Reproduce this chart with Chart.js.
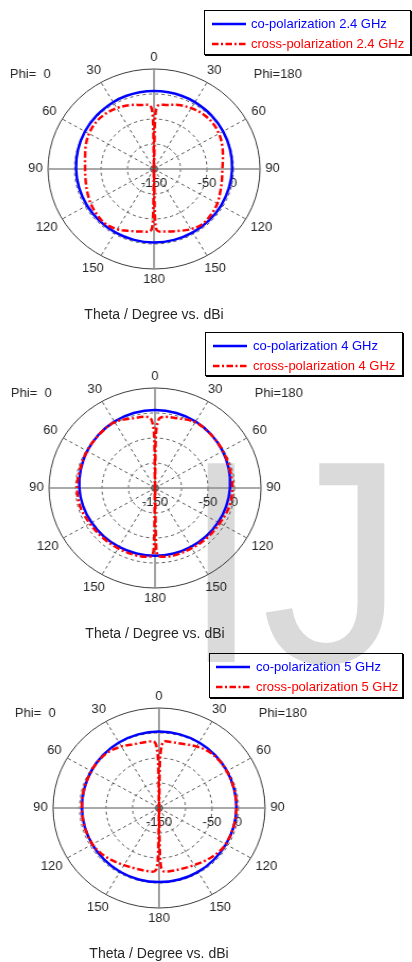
<!DOCTYPE html>
<html>
<head>
<meta charset="utf-8">
<title>Radiation patterns – co- and cross-polarization</title>
<script src="https://cdn.jsdelivr.net/npm/chart.js@4.4.1/dist/chart.umd.min.js"></script>
<style>
  html, body { margin: 0; padding: 0; background: #fff; }
  body { position: relative; width: 412px; height: 962px; overflow: hidden;
         font-family: "Liberation Sans", Arial, sans-serif; }
  #mark { position: absolute; left: 0; top: 0; }
  .panel { position: absolute; left: 0; width: 412px; height: 320px; }
  .panel canvas { position: absolute; left: 0; top: 0; }
  .legend { position: absolute; box-sizing: border-box; border: 1px solid #000;
            box-shadow: 1px 1px 0 #000; }
  .legend svg { position: absolute; }
  .legend span { position: absolute; font-size: 13px; line-height: 16px; white-space: nowrap; }
  .title { position: absolute; width: 260px; margin-left: -130px; text-align: center;
           font-size: 14px; line-height: 16px; color: #262626; white-space: nowrap; }
</style>
</head>
<body>
<svg id="mark" width="412" height="962"><text x="181" y="662" font-family="Liberation Sans, Arial, sans-serif" font-size="289" fill="#dadada">IJ</text></svg>

<script>
// Angular positions of the radar categories, one per degree, clockwise from the top.
// Right half = Phi 180 (theta 0..180 going down), left half = Phi 0 (theta 180..0 going up).
const thetaPositions = Array.from({ length: 360 }, (_, i) => i);

// Labels written at the 12 spokes (theta of each half-plane).
const spokeLabels = ['0', '30', '60', '90', '120', '150', '180', '150', '120', '90', '60', '30'];
// Ring labels written under the horizontal axis.
const ringTickValues = [-150, -50, 0];
const ringTickLabels = ['-150', '-50', '0'];
const phiLeftLabel = 'Phi=  0';
const phiRightLabel = 'Phi=180';
const axisTitle = 'Theta / Degree vs. dBi';

const coLabels = ['co-polarization 2.4 GHz', 'co-polarization 4 GHz', 'co-polarization 5 GHz'];
const crossLabels = ['cross-polarization 2.4 GHz', 'cross-polarization 4 GHz', 'cross-polarization 5 GHz'];

// Gain in dBi, [angular position in degrees, value]
const co24 = [[0,6.2],[10,6.0],[20,5.4],[30,4.4],[45,2.5],[60,0.5],[75,-1.3],[90,-2.6],[105,-3.6],
  [120,-3.9],[135,-3.8],[150,-3.5],[165,-3.2],[180,-3.1],[195,-3.3],[210,-3.6],[225,-3.9],[240,-4.0],
  [255,-3.7],[270,-2.9],[285,-1.5],[300,0.3],[315,2.3],[330,4.3],[340,5.3],[350,5.9]];
const cross24 = [[0,-150],[1,-60],[2,-30],[4,-22],[10,-20],[20,-14],[30,-9.5],[40,-6.5],[50,-6],
  [60,-8.5],[70,-13],[80,-18],[90,-21],[100,-20],[110,-17],[120,-12],[130,-9],[140,-7],[150,-11],
  [160,-18],[170,-23],[176,-25],[178,-30],[179,-60],[180,-150],[181,-60],[182,-30],[184,-25],
  [190,-23],[200,-18],[210,-11],[220,-7],[230,-9],[240,-12],[250,-16],[260,-19],[270,-20],
  [280,-18],[290,-13],[300,-8.5],[310,-6],[320,-6.5],[330,-9.5],[340,-14],[350,-20],[356,-22],
  [358,-30],[359,-60]];

const co4 = [[0,6.2],[15,5.3],[30,3.5],[45,0.5],[60,-2.6],[75,-5.6],[90,-8.5],[105,-10.8],[120,-12.5],
  [135,-13.5],[150,-14.1],[165,-14.4],[180,-14.4],[195,-14.4],[210,-14.0],[225,-13.2],[240,-11.8],
  [255,-9.5],[270,-7.2],[285,-5.0],[300,-2.3],[315,0.7],[330,3.5],[345,5.3]];
const cross4 = [[0,-150],[1,-40],[3,-12],[6,-7],[15,-5],[30,2],[45,0],[60,-2],[75,-4],[90,-4],
  [105,-5],[120,-9],[135,-10],[150,-11],[165,-10.5],[175,-12],[178,-16],[179,-40],[180,-150],
  [181,-40],[182,-16],[185,-12],[195,-10.5],[210,-10.5],[225,-10],[240,-8],[255,-4],[270,-3],
  [285,-3.5],[300,-2],[315,0],[330,2],[345,-5],[354,-7],[357,-12],[359,-40]];

const co5 = [[0,2.9],[15,2.4],[30,1.3],[45,-0.3],[60,-2.0],[75,-3.4],[90,-4.0],[105,-4.3],[120,-4.3],
  [135,-3.6],[150,-2.6],[165,-2.0],[180,-1.8],[195,-2.0],[210,-2.7],[225,-3.7],[240,-4.5],[255,-4.8],
  [270,-4.5],[285,-3.8],[300,-2.3],[315,-0.5],[330,1.2],[345,2.4]];
const cross5 = [[0,-150],[1,-60],[2,-30],[4,-17],[10,-16],[20,-14],[30,-8],[40,-3],[50,-2],[60,-2.5],
  [75,-3.5],[90,-4],[105,-4.5],[120,-5],[130,-8],[140,-13],[150,-18],[160,-21],[170,-22],[176,-23],
  [178,-30],[179,-60],[180,-150],[181,-60],[182,-30],[184,-23],[190,-22],[200,-21],[210,-18],
  [220,-13],[230,-8],[240,-5],[255,-4.5],[270,-4.5],[285,-3.5],[300,-2.5],[310,-2],[320,-3],
  [330,-8],[340,-14],[350,-16],[356,-17],[358,-30],[359,-60]];

// Panel layout (page pixels)
const stretch = 1.06; // plots are drawn slightly wider than tall
const panels = [
  { top: 0,   cx: 154, cy: 169, radius: 100, co: co24, cross: cross24,
    legend: { x: 204, y: 10,  w: 207, h: 45, lineX: 7, textX: 46 } },
  { top: 320, cx: 155, cy: 168, radius: 100, co: co4, cross: cross4,
    legend: { x: 205, y: 332, w: 198, h: 44, lineX: 7, textX: 47 } },
  { top: 640, cx: 159, cy: 168, radius: 100, co: co5, cross: cross5,
    legend: { x: 209, y: 653, w: 194, h: 45, lineX: 6, textX: 46 } }
];

const BLUE = '#0000ff', RED = '#ff0000';
const RED_DASH = [6.5, 2.5, 2, 2.5];

function toSeries(pairs) {
  const out = new Array(thetaPositions.length).fill(null);
  pairs.forEach(([deg, db]) => { out[deg] = db; });
  return out;
}

// Places the polar frame and writes its labels.
const polarFrame = {
  id: 'polarFrame',
  afterLayout(chart, args, o) {
    const s = chart.scales.r;
    s.xCenter = o.cx;
    s.yCenter = o.cy;
    s.drawingArea = o.radius;
  },
  beforeDatasetsDraw(chart, args, o) {
    const s = chart.scales.r;
    const ctx = chart.ctx;
    ctx.save();
    // centre marker
    ctx.strokeStyle = '#555';
    ctx.lineWidth = 1;
    ctx.beginPath();
    ctx.arc(s.xCenter, s.yCenter, 3.5, 0, Math.PI * 2);
    for (let k = 0; k < 4; k++) {
      const a = k * Math.PI / 4;
      ctx.moveTo(s.xCenter - Math.cos(a) * 3.5, s.yCenter - Math.sin(a) * 3.5);
      ctx.lineTo(s.xCenter + Math.cos(a) * 3.5, s.yCenter + Math.sin(a) * 3.5);
    }
    ctx.stroke();

    ctx.font = '12.3px "Liberation Sans", Arial, sans-serif';
    ctx.fillStyle = '#262626';
    ctx.textAlign = 'center';
    ctx.textBaseline = 'middle';
    const step = thetaPositions.length / spokeLabels.length;
    spokeLabels.forEach((t, k) => {
      const a = k * 2 * Math.PI / spokeLabels.length;
      const w = ctx.measureText(t).width;
      const ext = Math.abs(Math.sin(a)) * w / 2 + Math.abs(Math.cos(a)) * 6;
      const p = s.getPointPosition(k * step, s.drawingArea + 5 + ext);
      ctx.fillText(t, p.x, p.y);
    });
    ringTickValues.forEach((v, i) => {
      ctx.fillText(ringTickLabels[i], s.xCenter + s.getDistanceFromCenterForValue(v), s.yCenter + 15);
    });
    ctx.textAlign = 'left';
    ctx.fillText(phiLeftLabel, s.xCenter - 136, s.yCenter - 94);
    ctx.fillText(phiRightLabel, s.xCenter + 94, s.yCenter - 94);
    ctx.restore();
  }
};

function legendRow(box, y, color, dash, text, lay) {
  const svgNS = 'http://www.w3.org/2000/svg';
  const svg = document.createElementNS(svgNS, 'svg');
  svg.setAttribute('width', '34');
  svg.setAttribute('height', '6');
  svg.style.left = lay.lineX + 'px';
  svg.style.top = (y - 3) + 'px';
  const ln = document.createElementNS(svgNS, 'line');
  ln.setAttribute('x1', '0'); ln.setAttribute('y1', '3');
  ln.setAttribute('x2', '34'); ln.setAttribute('y2', '3');
  ln.setAttribute('stroke', color);
  ln.setAttribute('stroke-width', '2.6');
  if (dash) ln.setAttribute('stroke-dasharray', dash.join(' '));
  svg.appendChild(ln);
  box.appendChild(svg);
  const sp = document.createElement('span');
  sp.textContent = text;
  sp.style.color = color;
  sp.style.left = lay.textX + 'px';
  sp.style.top = (y - 8) + 'px';
  box.appendChild(sp);
}

panels.forEach((p, i) => {
  const panel = document.createElement('div');
  panel.className = 'panel';
  panel.style.top = p.top + 'px';
  document.body.appendChild(panel);

  const canvas = document.createElement('canvas');
  canvas.width = 412;
  canvas.height = 320;
  canvas.style.transform = 'scaleX(' + stretch + ')';
  canvas.style.transformOrigin = p.cx + 'px 0px';
  panel.appendChild(canvas);

  const title = document.createElement('div');
  title.className = 'title';
  title.textContent = axisTitle;
  title.style.left = p.cx + 'px';
  title.style.top = (p.cy + 145 - 8) + 'px';
  panel.appendChild(title);

  const L = p.legend;
  const box = document.createElement('div');
  box.className = 'legend';
  box.style.left = L.x + 'px';
  box.style.top = L.y + 'px';
  box.style.width = L.w + 'px';
  box.style.height = L.h + 'px';
  document.body.appendChild(box);
  legendRow(box, 13, BLUE, null, coLabels[i], L);
  legendRow(box, 33, RED, RED_DASH, crossLabels[i], L);

  new Chart(canvas, {
    type: 'radar',
    data: {
      labels: thetaPositions,
      datasets: [
        { label: crossLabels[i], data: toSeries(p.cross), borderColor: RED, backgroundColor: 'transparent',
          borderWidth: 2.5, borderDash: RED_DASH, pointRadius: 0, fill: false, spanGaps: true,
          tension: 0.35, order: 0 },
        { label: coLabels[i], data: toSeries(p.co), borderColor: BLUE, backgroundColor: 'transparent',
          borderWidth: 2.5, pointRadius: 0, fill: false, spanGaps: true, tension: 0.4, order: 1 }
      ]
    },
    options: {
      responsive: false,
      animation: false,
      devicePixelRatio: 1,
      events: [],
      layout: { padding: 0 },
      plugins: {
        legend: { display: false },
        tooltip: { enabled: false },
        polarFrame: { cx: p.cx, cy: p.cy, radius: p.radius }
      },
      scales: {
        r: {
          min: -150,
          max: 50,
          startAngle: 0,
          ticks: { display: false, stepSize: 50 },
          pointLabels: { display: false },
          grid: {
            circular: true,
            color: c => (c.tick && c.tick.value === 50) ? '#3a3a3a' : '#555',
            lineWidth: 1
          },
          border: { dash: c => (c.tick && c.tick.value === 50) ? [] : [3, 3] },
          angleLines: {
            display: true,
            color: c => c.index % 90 === 0 ? '#8c8c8c' : (c.index % 30 === 0 ? '#555' : 'rgba(0,0,0,0)'),
            lineWidth: c => c.index % 90 === 0 ? 1.6 : (c.index % 30 === 0 ? 1 : 0),
            borderDash: c => c.index % 90 === 0 ? [] : [3, 3]
          }
        }
      }
    },
    plugins: [polarFrame]
  });
});
</script>
</body>
</html>
